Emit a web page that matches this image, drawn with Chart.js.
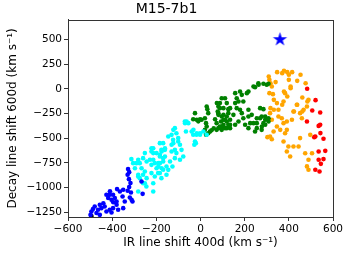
<!DOCTYPE html>
<html><head><meta charset="utf-8">
<script src="https://cdn.jsdelivr.net/npm/chart.js@4/dist/chart.umd.min.js"></script>
<style>html,body{margin:0;padding:0;background:#fff;}canvas{display:block;}</style>
</head><body>
<canvas id="c" width="349" height="256"></canvas>
<script>
const titleText = "M15-7b1";
const xTitle = "IR line shift 400d (km s\u207B\u00B9)";
const yTitle = "Decay line shift 600d (km s\u207B\u00B9)";
const xTicks = [-600,-400,-200,0,200,400,600];
const yTicks = [-1250,-1000,-750,-500,-250,0,250,500];

const bluePts = [[-328,-814],[-323,-845],[-330,-872],[-324,-916],[-317,-956],[-323,-997],[-330,-1034],[-315,-1052],[-320,-1102],[-312,-1126],[-308,-1143],
[-267,-940],[-262,-1065],[-350,-1024],[-365,-1042],[-378,-1017],[-396,-1075],[-411,-1075],[-426,-1075],[-418,-1108],[-403,-1126],[-388,-1108],[-380,-1143],[-353,-1092],[-343,-1143],[-350,-1210],[-373,-1227],[-396,-1210],[-411,-1227],[-403,-1255],[-449,-1210],[-456,-1176],[-464,-1227],[-479,-1194],[-487,-1220],[-494,-1244],[-498,-1278],[-471,-1260],[-456,-1278],[-426,-1244],[-434,-1194],[-380,-1176],[-440,-1160],[-395,-1150],[-410,-1040]];
const blackPts = [[-494,-1290]];
const cyanPts = [[-313,-713],[-290,-754],[-267,-805],[-282,-872],[-275,-906],[-252,-838],[-260,-957],[-282,-1042],[-245,-990],[-222,-602],[-214,-652],[-229,-720],[-207,-754],[-199,-805],[-222,-855],[-207,-889],[-214,-957],[-184,-551],[-177,-619],[-184,-669],[-169,-703],[-184,-754],[-192,-855],[-169,-821],[-154,-788],[-154,-872],[-177,-906],[-161,-619],[-146,-483],[-131,-568],[-124,-517],[-116,-399],[-109,-450],[-101,-500],[-116,-619],[-109,-652],[-93,-568],[-86,-619],[-78,-686],[-93,-720],[-127,-788],[-71,-331],[-66,-433],[-55,-348],[-40,-433],[-33,-466],[-28,-568],[-18,-466],[-21,-551],[-2,-450],[13,-433],[28,-466],
[-123,-416],[-131,-467],[-101,-534],[-123,-551],[-131,-636],[-116,-703],[-138,-737],[-169,-551],[-161,-602],[-176,-636],[-199,-652],[-184,-686],[-161,-686],[-169,-737],[-191,-754],[-214,-720],[-222,-636],[-214,-602],[-222,-771],[-244,-737],[-252,-652],[-260,-703],[-282,-720],[-275,-754],[-297,-805],[-305,-754],[-282,-889],[-260,-872],[-244,-906],[-184,-855],[-191,-788],[-176,-805],[-252,-957],[-214,-1041],[-146,-822],
[-63,-331],[-70,-348],[-32,-416],[-17,-450],[-2,-466],[-25,-534]];
const greenPts = [[-25,-247],[-33,-308],[-17,-314],[-2,-308],[-10,-330],[5,-314],[20,-298],[28,-179],[31,-206],[35,-247],[25,-348],[28,-382],[20,-416],[35,-450],[43,-433],[25,-466],[66,-308],[73,-348],[74,-145],[78,-230],[60,-400],[50,-420],
[81,-399],[73,-416],[88,-382],[96,-416],[81,-247],[88,-196],[104,-264],[119,-281],[104,-314],[119,-331],[134,-314],[126,-365],[119,-399],[134,-399],[126,-206],[93,-331],[104,-365],
[263,41],[285,51],[308,51],[247,17],[157,-44],[179,-27],[187,-61],[210,-44],[217,-27],[164,-95],[172,-129],[194,-129],[157,-145],[96,-95],[111,-95],[88,-145],[119,-145],[81,-179],[104,-196],[134,-196],[164,-196],[179,-213],[217,-213],[126,-247],[149,-264],[187,-247],[81,-264],[96,-281],[111,-314],[172,-331],[194,-298],[217,-281],[134,-365],[157,-365],[202,-365],[225,-348],[255,-298],[270,-298],[293,-314],[308,-331],[255,-348],[285,-348],[278,-382],[96,-382],[111,-399],[217,-399],[255,-399],
[240,24],[262,57],[300,41],[232,-264],[240,-348],[247,-433],[277,-416],[270,-196],[285,-206],[293,-365],[308,-298],[277,-281],[293,-281]];
const orangePts = [[347,169],[370,159],[378,183],[393,169],[415,169],[309,125],[312,91],[317,57],[340,68],[400,142],[400,91],[408,7],[438,81],[453,142],[476,57],[312,-44],[328,-54],[332,-112],[378,-27],[408,24],[393,-78],[461,-88],[484,-128],[438,-162],[370,-162],[423,-230],[461,-230],[332,-213],[317,-196],
[323,24],[489,-112],[482,-179],[467,-213],[451,-247],[459,-298],[436,-162],[421,-230],[414,-314],[391,-331],[376,-348],[353,-213],[368,-298],[346,-382],[361,-416],[331,-433],[315,-483],[323,-511],[303,-490],[383,-44],[376,-128],[391,-416],[376,-534],[383,-450],[398,-585],[406,-686],[391,-636],[444,-585],[451,-500],[421,-585],[474,-653],[489,-720],[482,-787],[489,-821],[505,-653],[497,-467],[346,-145],[353,-281],[315,-247],[323,-314]];
const redPts = [[483,0],[521,-115],[506,-220],[542,-240],[482,-331],[542,-365],[535,-376],[520,-483],[515,-490],[557,-507],[543,-449],[565,-629],[535,-636],[557,-713],[535,-720],[545,-761],[520,-821],[539,-838]];
const starPts = [[360,500]];

function toXY(a){return a.map(p=>({x:p[0],y:p[1]}));}
function makeStar(r,color){const s=Math.ceil(r*2+2);const c=document.createElement('canvas');c.width=s;c.height=s;const g=c.getContext('2d');g.fillStyle=color;g.beginPath();for(let i=0;i<10;i++){const rad=(i%2)?r*0.38:r;const a=-Math.PI/2+i*Math.PI/5;g.lineTo(s/2+rad*Math.cos(a),s/2+rad*Math.sin(a));}g.closePath();g.fill();return c;}
const fmt = v => String(v).replace('-', '\u2212');
const FONT = "'DejaVu Sans', sans-serif";
function ds(data,color,r){return {data:toXY(data),backgroundColor:color,borderWidth:0,pointRadius:r,pointHoverRadius:r};}

const frame = {id:'frame',afterDraw(chart){const a=chart.chartArea,ctx=chart.ctx;ctx.save();ctx.strokeStyle='#333';ctx.lineWidth=1;ctx.strokeRect(Math.round(a.left)+0.5,Math.round(a.top)+0.5,Math.round(a.right-a.left),Math.round(a.bottom-a.top));ctx.restore();}};

new Chart(document.getElementById('c'),{
  type:'scatter',
  data:{datasets:[
    ds(bluePts,'#0000ff',2.3),
    ds(cyanPts,'#00ffff',2.3),
    ds(greenPts,'#008000',2.3),
    ds(orangePts,'#ffa500',2.3),
    ds(redPts,'#ff0000',2.3),
    ds(blackPts,'#000000',2.3),
    Object.assign(ds(starPts,'#0000ff',7),{pointStyle:makeStar(7.5,'#0000ff')})
  ]},
  options:{
    responsive:false,animation:false,devicePixelRatio:1,
    layout:{padding:{left:0,right:16,top:0,bottom:0}},
    plugins:{legend:{display:false},tooltip:{enabled:false},
      title:{display:true,text:titleText,color:'#000',font:{family:FONT,size:14,weight:'normal'},padding:{top:1,bottom:2}}},
    scales:{
      x:{type:'linear',min:-600,max:600,
        afterBuildTicks:s=>{s.ticks=xTicks.map(v=>({value:v}));},
        afterFit:s=>{s.height=39;},
        ticks:{callback:fmt,color:'#000',font:{family:FONT,size:10.5},padding:2,maxRotation:0,autoSkip:false},
        grid:{drawOnChartArea:false,drawTicks:true,tickLength:4,color:'#333'},
        border:{display:true,color:'#333'},
        title:{display:true,text:xTitle,color:'#000',font:{family:FONT,size:12},padding:{top:0,bottom:6}}},
      y:{type:'linear',min:-1300,max:700,
        afterBuildTicks:s=>{s.ticks=yTicks.map(v=>({value:v}));},
        afterFit:s=>{s.width=68;},
        ticks:{callback:fmt,color:'#000',font:{family:FONT,size:10.5},padding:2,autoSkip:false},
        grid:{drawOnChartArea:false,drawTicks:true,tickLength:4,color:'#333'},
        border:{display:true,color:'#333'},
        title:{display:true,text:yTitle,color:'#000',font:{family:FONT,size:12},padding:{top:6,bottom:0}}}
    }
  },
  plugins:[frame]
});
</script>
</body></html>
